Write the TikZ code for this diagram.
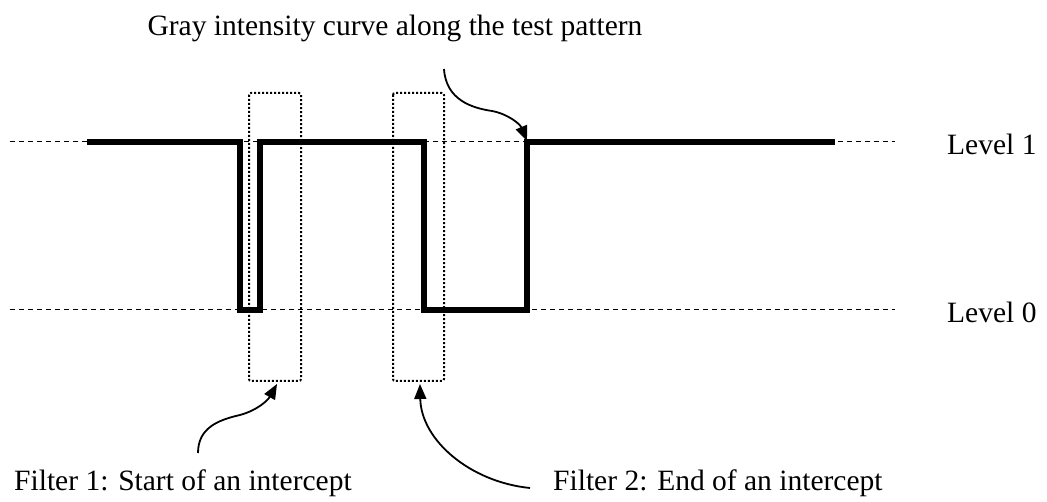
\documentclass[tikz,border=0pt]{standalone}
\usepackage{fontspec}
\setmainfont{Liberation Serif}
\usetikzlibrary{arrows.meta}
\begin{document}
\begin{tikzpicture}[x=1pt,y=-1pt,
  label/.style={inner sep=0pt,font=\fontsize{29.5}{35}\selectfont},
  levelline/.style={line width=1pt,dash pattern=on 5pt off 4pt},
  signal/.style={line width=5.5pt,line join=miter},
  filterbox/.style={line width=2pt,dash pattern=on 2pt off 2pt,rounded corners=2pt},
  pointer/.style={line width=1.8pt,-{Triangle[length=15pt,width=12pt]}}]
\useasboundingbox (0,0) rectangle (1047,502);
% reference levels
\draw[levelline] (10,142) -- (895,142);
\draw[levelline] (10,310) -- (895,310);
% filter windows
\draw[filterbox] (249,93) rectangle (301,381);
\draw[filterbox] (393,93) rectangle (444,381);
% gray intensity profile
\draw[signal] (87,142) -- (240,142) -- (240,310) -- (260,310) -- (260,142)
  -- (424,142) -- (424,310) -- (527,310) -- (527,142) -- (835,142);
% labels
\node[label,anchor=base] (title) at (395,36) {Gray intensity curve along the test pattern};
\node[label,anchor=base west] (lvl1) at (947,155) {Level 1};
\node[label,anchor=base west] (lvl0) at (947,323) {Level 0};
\node[label,anchor=base west] (f1) at (14,490) {Filter 1: Start of an intercept};
\node[label,anchor=base west] (f2) at (553,490) {Filter 2: End of an intercept};
% pointer ends
\coordinate (t0) at (444,69);
\coordinate (t1) at (527,141);
\coordinate (a0) at (198,453);
\coordinate (a1) at (277,384);
\coordinate (b0) at (530,488);
\coordinate (b1) at (420,384);
\draw[pointer] (t0) .. controls (446,100) and (472,108) .. (492,111)
  .. controls (508,114) and (520,124) .. (t1);
\draw[pointer] (a0) .. controls (198,428) and (218,420) .. (240,415)
  .. controls (258,410) and (268,400) .. (a1);
\draw[pointer] (b0) .. controls (470,482) and (421,440) .. (b1);
\end{tikzpicture}
\end{document}
